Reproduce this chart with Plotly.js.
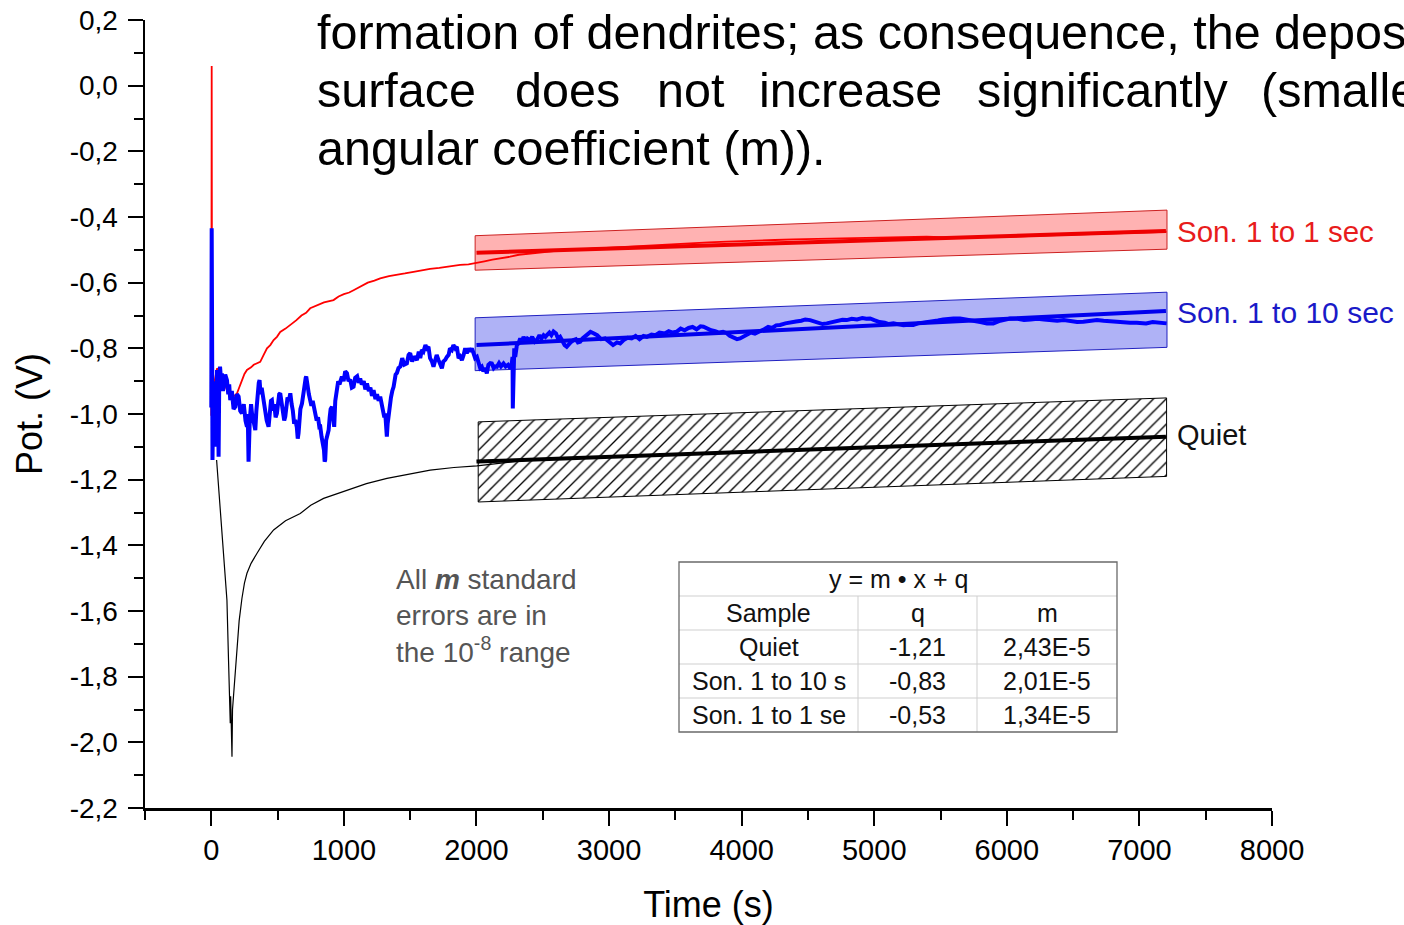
<!DOCTYPE html>
<html>
<head>
<meta charset="utf-8">
<script src="https://cdn.plot.ly/plotly-3.0.1.min.js"></script>
<style>html,body{margin:0;padding:0;background:#fff;overflow:hidden}#chart{width:1404px;height:925px}</style>
</head>
<body>
<div id="chart"></div>
<script>
// ---- Data ----
const redCurve = [[0,-1.005],[3,0.06],[6,-0.95],[10,-1.0],[25,-0.9],[43,-0.861],[68,-0.87],[95,-0.9],[118,-0.927],[150,-0.945],[168,-0.947],[194,-0.937],[215,-0.915],[230,-0.9],[250,-0.878],[269,-0.866],[300,-0.858],[320,-0.85],[345,-0.846],[369,-0.841],[395,-0.82],[420,-0.8],[445,-0.79],[470,-0.775],[495,-0.765],[520,-0.75],[560,-0.74],[596,-0.729],[640,-0.715],[680,-0.7],[715,-0.692],[746,-0.678],[800,-0.668],[850,-0.66],[922,-0.653],[960,-0.642],[1000,-0.635],[1040,-0.63],[1073,-0.623],[1130,-0.61],[1180,-0.6],[1230,-0.594],[1274,-0.587],[1340,-0.58],[1400,-0.575],[1460,-0.572],[1525,-0.567],[1590,-0.562],[1650,-0.558],[1720,-0.555],[1777,-0.551],[1830,-0.549],[1877,-0.546],[1940,-0.544],[1990,-0.541],[2060,-0.535],[2120,-0.53],[2190,-0.526],[2254,-0.521],[2320,-0.515],[2380,-0.512],[2440,-0.509],[2506,-0.506],[2600,-0.503],[2700,-0.5],[2790,-0.498],[2883,-0.496],[3000,-0.493],[3100,-0.49],[3250,-0.487],[3385,-0.485],[3500,-0.482],[3600,-0.48],[3750,-0.477],[3888,-0.475],[4000,-0.474],[4100,-0.472],[4250,-0.47],[4390,-0.468],[4520,-0.467],[4650,-0.465],[4780,-0.463],[4893,-0.462],[5020,-0.462],[5150,-0.461],[5280,-0.46],[5396,-0.46],[5550,-0.462],[5700,-0.462],[5880,-0.461],[6075,-0.46],[6250,-0.457],[6400,-0.455],[6550,-0.452],[6703,-0.45],[6850,-0.448],[7000,-0.447],[7100,-0.446],[7205,-0.445]];

const blueCurve = [[0,-0.98],[3,-0.434],[6,-0.75],[9,-1.14],[15,-0.95],[22,-1.05],[30,-0.9],[38,-1.1],[43,-0.866],[50,-0.95],[55,-1.13],[60,-0.9],[66,-0.856],[74,-0.9],[80,-0.876],[88,-0.93],[93,-0.917],[105,-0.88],[118,-0.897],[128,-0.94],[135,-0.91],[143,-0.958],[155,-0.93],[168,-0.985],[181,-0.978],[193,-0.94],[206,-0.947],[218,-0.99],[231,-0.998],[245,-0.97],[258,-1.02],[269,-1.039],[275,-1.0],[281,-1.145],[290,-1.02],[300,-0.97],[307,-0.998],[318,-1.03],[332,-1.049],[340,-0.99],[350,-0.93],[358,-0.905],[364,-0.897],[372,-0.94],[380,-0.92],[395,-0.958],[405,-0.99],[418,-1.02],[432,-1.039],[440,-0.99],[450,-0.96],[457,-0.958],[466,-0.99],[475,-0.97],[485,-1.01],[495,-0.998],[505,-0.96],[512,-0.94],[520,-0.937],[530,-0.97],[540,-0.99],[550,-1.02],[558,-1.008],[566,-0.97],[575,-0.95],[585,-0.96],[596,-0.937],[606,-0.97],[615,-0.99],[625,-1.03],[633,-1.018],[645,-1.04],[652,-1.075],[658,-1.059],[665,-1.0],[672,-0.985],[684,-0.968],[694,-0.93],[704,-0.9],[712,-0.89],[716,-0.886],[725,-0.92],[736,-0.94],[746,-0.958],[755,-0.975],[765,-0.96],[775,-0.99],[784,-0.998],[795,-1.02],[805,-1.01],[815,-1.04],[822,-1.039],[832,-1.07],[842,-1.09],[850,-1.11],[855,-1.145],[859,-1.14],[866,-1.08],[875,-1.06],[885,-1.049],[893,-1.01],[900,-0.985],[910,-0.978],[918,-1.02],[927,-1.039],[935,-0.96],[947,-0.917],[957,-0.9],[967,-0.91],[977,-0.89],[985,-0.886],[998,-0.9],[1010,-0.87],[1023,-0.876],[1035,-0.9],[1048,-0.895],[1060,-0.92],[1073,-0.917],[1085,-0.89],[1100,-0.885],[1112,-0.905],[1123,-0.892],[1135,-0.91],[1150,-0.9],[1162,-0.925],[1174,-0.907],[1188,-0.93],[1200,-0.92],[1212,-0.945],[1224,-0.927],[1238,-0.955],[1250,-0.94],[1262,-0.96],[1274,-0.947],[1285,-0.97],[1295,-0.985],[1305,-1.01],[1312,-0.998],[1318,-1.04],[1324,-1.069],[1330,-1.03],[1337,-1.0],[1344,-0.998],[1355,-0.95],[1365,-0.93],[1375,-0.917],[1390,-0.88],[1400,-0.875],[1412,-0.86],[1425,-0.856],[1440,-0.83],[1455,-0.85],[1475,-0.846],[1488,-0.82],[1500,-0.815],[1515,-0.84],[1530,-0.825],[1551,-0.836],[1565,-0.81],[1576,-0.83],[1588,-0.805],[1600,-0.81],[1615,-0.79],[1626,-0.8],[1638,-0.795],[1650,-0.83],[1664,-0.84],[1676,-0.856],[1690,-0.835],[1700,-0.82],[1714,-0.836],[1726,-0.85],[1739,-0.861],[1750,-0.84],[1765,-0.835],[1777,-0.826],[1790,-0.82],[1800,-0.8],[1814,-0.805],[1826,-0.79],[1840,-0.8],[1852,-0.795],[1865,-0.83],[1877,-0.825],[1890,-0.836],[1903,-0.82],[1915,-0.8],[1927,-0.815],[1940,-0.8],[1952,-0.81],[1965,-0.8],[1978,-0.815],[1990,-0.83],[2003,-0.826],[2015,-0.845],[2028,-0.86],[2040,-0.856],[2052,-0.87],[2065,-0.86],[2078,-0.876],[2090,-0.85],[2104,-0.845],[2116,-0.846],[2130,-0.86],[2142,-0.855],[2154,-0.856],[2170,-0.845],[2185,-0.855],[2204,-0.846],[2220,-0.855],[2238,-0.85],[2254,-0.861],[2265,-0.85],[2272,-0.826],[2274,-0.983],[2277,-0.84],[2285,-0.8],[2292,-0.826],[2305,-0.79],[2317,-0.785],[2330,-0.77],[2342,-0.78],[2355,-0.765],[2370,-0.78],[2385,-0.77],[2405,-0.775],[2420,-0.765],[2440,-0.78],[2455,-0.775],[2475,-0.76],[2490,-0.77],[2506,-0.76],[2520,-0.765],[2531,-0.76],[2550,-0.752],[2565,-0.76],[2581,-0.749],[2600,-0.755],[2615,-0.77],[2631,-0.765],[2650,-0.78],[2665,-0.79],[2681,-0.795],[2700,-0.785],[2715,-0.78],[2732,-0.775],[2750,-0.772],[2765,-0.782],[2782,-0.78],[2800,-0.77],[2830,-0.76],[2860,-0.75],[2883,-0.754],[2910,-0.76],[2940,-0.772],[2970,-0.77],[3000,-0.78],[3030,-0.79],[3060,-0.782],[3084,-0.785],[3110,-0.775],[3140,-0.768],[3170,-0.77],[3200,-0.762],[3230,-0.772],[3260,-0.762],[3285,-0.765],[3320,-0.758],[3350,-0.76],[3380,-0.752],[3420,-0.755],[3450,-0.748],[3480,-0.752],[3511,-0.749],[3540,-0.74],[3570,-0.745],[3600,-0.738],[3630,-0.735],[3660,-0.742],[3690,-0.733],[3712,-0.734],[3740,-0.74],[3770,-0.745],[3800,-0.748],[3830,-0.752],[3860,-0.75],[3888,-0.754],[3910,-0.762],[3940,-0.768],[3965,-0.772],[3988,-0.77],[4010,-0.765],[4040,-0.76],[4070,-0.752],[4100,-0.755],[4139,-0.749],[4170,-0.742],[4200,-0.735],[4230,-0.738],[4260,-0.73],[4290,-0.729],[4330,-0.724],[4370,-0.72],[4410,-0.718],[4450,-0.716],[4480,-0.712],[4516,-0.714],[4550,-0.718],[4580,-0.722],[4610,-0.726],[4642,-0.724],[4680,-0.72],[4720,-0.716],[4760,-0.713],[4793,-0.714],[4830,-0.71],[4870,-0.712],[4910,-0.708],[4940,-0.71],[4969,-0.709],[5000,-0.714],[5040,-0.72],[5080,-0.722],[5110,-0.726],[5145,-0.724],[5180,-0.728],[5220,-0.73],[5260,-0.728],[5295,-0.729],[5330,-0.724],[5370,-0.722],[5410,-0.72],[5446,-0.719],[5480,-0.715],[5520,-0.712],[5560,-0.71],[5597,-0.709],[5647,-0.709],[5700,-0.712],[5750,-0.716],[5800,-0.72],[5850,-0.724],[5898,-0.724],[5950,-0.716],[6000,-0.71],[6024,-0.709],[6080,-0.71],[6130,-0.714],[6180,-0.712],[6230,-0.71],[6280,-0.712],[6326,-0.714],[6380,-0.716],[6430,-0.714],[6480,-0.718],[6530,-0.72],[6577,-0.719],[6630,-0.716],[6680,-0.714],[6730,-0.716],[6780,-0.718],[6829,-0.719],[6880,-0.72],[6930,-0.722],[6980,-0.722],[7004,-0.722],[7050,-0.724],[7100,-0.72],[7150,-0.722],[7205,-0.724]];

const quietCurve = [[40,-1.14],[60,-1.25],[81,-1.364],[100,-1.46],[118,-1.567],[130,-1.75],[143,-1.942],[146,-1.86],[150,-1.95],[156,-2.044],[160,-1.9],[168,-1.856],[180,-1.78],[194,-1.699],[210,-1.63],[231,-1.562],[250,-1.515],[269,-1.485],[300,-1.455],[345,-1.424],[400,-1.388],[470,-1.353],[560,-1.325],[671,-1.303],[750,-1.278],[847,-1.257],[930,-1.245],[1023,-1.232],[1170,-1.212],[1325,-1.196],[1500,-1.182],[1651,-1.171],[1830,-1.163],[2003,-1.158],[2400,-1.14],[3000,-1.132],[4000,-1.117],[5000,-1.1],[6000,-1.085],[7200,-1.069]];

// linear fits (as drawn)
const fitT = [2000, 7200];
const fitRed = [-0.509, -0.443];
const fitBlue = [-0.790, -0.686];
const fitQuiet = [-1.145, -1.069];

// confidence bands (left edge, right edge)
const bandTRed = [1990, 7208];
const redBandTop = [-0.457, -0.379];
const redBandBot = [-0.562, -0.498];
const bandTBlue = [1990, 7208];
const blueBandTop = [-0.707, -0.629];
const blueBandBot = [-0.868, -0.797];
const bandTQuiet = [2013, 7205];
const quietBandTop = [-1.024, -0.951];
const quietBandBot = [-1.268, -1.190];

// series labels
const seriesNames = ["Son. 1 to 1 sec", "Son. 1 to 10 sec", "Quiet"];
const labelY = [-0.443, -0.692, -1.064];
const labelX = 7270;

// axis ticks
const yTickVals = [0.2, 0.0, -0.2, -0.4, -0.6, -0.8, -1.0, -1.2, -1.4, -1.6, -1.8, -2.0, -2.2];
const yTickLabels = ["0,2", "0,0", "-0,2", "-0,4", "-0,6", "-0,8", "-1,0", "-1,2", "-1,4", "-1,6", "-1,8", "-2,0", "-2,2"];
const xTickVals = [0, 1000, 2000, 3000, 4000, 5000, 6000, 7000, 8000];

// fit table
const tableTitle = "y = m • x + q";
const tableHeader = ["Sample", "q", "m"];
const sampleNames = ["Quiet", "Son. 1 to 10 s", "Son. 1 to 1 se"];
const qValues = ["-1,21", "-0,83", "-0,53"];
const mValues = ["2,43E-5", "2,01E-5", "1,34E-5"];

// texts
const noteText = "All <b><i>m</i></b> standard<br>errors are in<br>the 10<sup>-8</sup> range";
const topLine1 = "formation of dendrites; as consequence, the depos";
const topLine2Words = ["surface", "does", "not", "increase", "significantly", "(smalle"];
const topLine3 = "angular coefficient (m)).";

// ---- Layout helpers (pixel -> paper) ----
const W = 1404, H = 925, ML = 145, MR = 132, MT = 20, MB = 117;
const PW = W - ML - MR, PH = H - MT - MB;
const px = x => (x - ML) / PW;
const py = y => (H - MB - y) / PH;

const col = a => a.map(p => p[0]);
const val = a => a.map(p => p[1]);
const poly = (t, top, bot) => ({x: [t[0], t[1], t[1], t[0], t[0]], y: [top[0], top[1], bot[1], bot[0], top[0]]});

const FONT = '"Liberation Sans", Arial, sans-serif';

const rb = poly(bandTRed, redBandTop, redBandBot);
const bb = poly(bandTBlue, blueBandTop, blueBandBot);
const qb = poly(bandTQuiet, quietBandTop, quietBandBot);

const traces = [
  {x: rb.x, y: rb.y, mode: 'lines', fill: 'toself', fillcolor: 'rgba(255,0,0,0.30)', line: {color: '#cc2020', width: 1}, hoverinfo: 'skip', showlegend: false},
  {x: bb.x, y: bb.y, mode: 'lines', fill: 'toself', fillcolor: 'rgba(20,30,230,0.34)', line: {color: '#2020c0', width: 1}, hoverinfo: 'skip', showlegend: false},
  {x: qb.x, y: qb.y, mode: 'lines', fill: 'toself', fillcolor: 'white', fillpattern: {shape: '/', fgcolor: '#000', bgcolor: '#fff', size: 9, solidity: 0.15}, line: {color: '#000', width: 1}, hoverinfo: 'skip', showlegend: false},
  {x: col(quietCurve), y: val(quietCurve), mode: 'lines', line: {color: '#000', width: 1.2}, name: 'Quiet', showlegend: false},
  {x: col(redCurve), y: val(redCurve), mode: 'lines', line: {color: '#ff0000', width: 1.8}, name: 'Son. 1 to 1 sec', showlegend: false},
  {x: col(blueCurve), y: val(blueCurve), mode: 'lines', line: {color: '#0000ff', width: 4}, name: 'Son. 1 to 10 sec', showlegend: false},
  {x: fitT, y: fitRed, mode: 'lines', line: {color: '#ee0000', width: 4}, hoverinfo: 'skip', showlegend: false},
  {x: fitT, y: fitBlue, mode: 'lines', line: {color: '#0000ee', width: 4}, hoverinfo: 'skip', showlegend: false},
  {x: fitT, y: fitQuiet, mode: 'lines', line: {color: '#000', width: 4}, hoverinfo: 'skip', showlegend: false}
];

const labelColors = ['#e81c1c', '#1a1ac8', '#111'];
const labelSizes = [29.5, 30, 29];
const annotations = [];
seriesNames.forEach((n, i) => annotations.push({
  x: labelX, y: labelY[i], xref: 'x', yref: 'y', text: n, showarrow: false,
  xanchor: 'left', yanchor: 'middle', font: {family: FONT, size: labelSizes[i], color: labelColors[i]}
}));

// note
annotations.push({x: px(394), y: py(562), xref: 'paper', yref: 'paper', text: noteText, showarrow: false,
  xanchor: 'left', yanchor: 'top', align: 'left', font: {family: FONT, size: 28, color: '#555'}});

// top text
const topFont = {family: FONT, size: 48.5, color: '#000'};
annotations.push({x: px(315), y: py(32), xref: 'paper', yref: 'paper', text: topLine1, showarrow: false, xanchor: 'left', yanchor: 'middle', font: topFont});
const wordX = [315, 513, 655, 757, 975, 1259];
topLine2Words.forEach((w, i) => annotations.push({x: px(wordX[i]), y: py(90), xref: 'paper', yref: 'paper', text: w, showarrow: false, xanchor: 'left', yanchor: 'middle', font: topFont}));
annotations.push({x: px(315), y: py(148), xref: 'paper', yref: 'paper', text: topLine3, showarrow: false, xanchor: 'left', yanchor: 'middle', font: topFont});

// table
const tL = 679, tR = 1117, tTop = 562, rowH = 34, colX = [679, 858, 977, 1117];
const tBot = tTop + rowH * 5;
const shapes = [];
const gridLine = {color: '#cfcfcf', width: 1};
for (let r = 1; r < 5; r++) {
  shapes.push({type: 'line', xref: 'paper', yref: 'paper', x0: px(tL), x1: px(tR), y0: py(tTop + r * rowH), y1: py(tTop + r * rowH), line: gridLine});
}
[1, 2].forEach(c => shapes.push({type: 'line', xref: 'paper', yref: 'paper', x0: px(colX[c]), x1: px(colX[c]), y0: py(tTop + rowH), y1: py(tBot), line: gridLine}));
shapes.push({type: 'rect', xref: 'paper', yref: 'paper', x0: px(tL), x1: px(tR), y0: py(tTop), y1: py(tBot), line: {color: '#6a6a6a', width: 1.3}, fillcolor: 'rgba(0,0,0,0)'});
const tFont = {family: FONT, size: 25, color: '#111'};
const colC = [0, 1, 2].map(c => (colX[c] + colX[c + 1]) / 2);
annotations.push({x: px((tL + tR) / 2), y: py(tTop + rowH / 2), xref: 'paper', yref: 'paper', text: tableTitle, showarrow: false, xanchor: 'center', yanchor: 'middle', font: tFont});
tableHeader.forEach((h, c) => annotations.push({x: px(colC[c]), y: py(tTop + rowH * 1.5), xref: 'paper', yref: 'paper', text: h, showarrow: false, xanchor: 'center', yanchor: 'middle', font: tFont}));
sampleNames.forEach((s, r) => {
  const yy = py(tTop + rowH * (2.5 + r));
  [s, qValues[r], mValues[r]].forEach((t, c) => annotations.push({x: px(colC[c]), y: yy, xref: 'paper', yref: 'paper', text: t, showarrow: false, xanchor: 'center', yanchor: 'middle', font: tFont}));
});

const layout = {
  width: W, height: H,
  margin: {l: ML, r: MR, t: MT, b: MB, pad: 0},
  paper_bgcolor: '#fff', plot_bgcolor: '#fff',
  showlegend: false,
  font: {family: FONT, color: '#000'},
  xaxis: {
    range: [-500, 8000], showgrid: false, zeroline: false,
    showline: true, linecolor: '#000', linewidth: 2.5,
    ticks: 'outside', ticklen: 15, tickwidth: 2, tickcolor: '#000',
    tickvals: xTickVals, ticktext: xTickVals.map(String),
    minor: {ticks: 'outside', ticklen: 9, tickwidth: 2, tickcolor: '#000', dtick: 500, tick0: 0, showgrid: false},
    tickfont: {family: FONT, size: 29, color: '#000'},
    ticklabelstandoff: 0,
    title: {text: 'Time (s)', font: {family: FONT, size: 36, color: '#000'}, standoff: 27}
  },
  yaxis: {
    range: [-2.2, 0.2], showgrid: false, zeroline: false,
    showline: true, linecolor: '#000', linewidth: 2.5,
    ticks: 'outside', ticklen: 15, tickwidth: 2, tickcolor: '#000',
    tickvals: yTickVals, ticktext: yTickLabels,
    minor: {ticks: 'outside', ticklen: 9, tickwidth: 2, tickcolor: '#000', dtick: 0.1, tick0: 0, showgrid: false},
    tickfont: {family: FONT, size: 28, color: '#000'},
    ticklabelstandoff: 4,
    title: {text: 'Pot. (V)', font: {family: FONT, size: 36, color: '#000'}, standoff: 16}
  },
  shapes: shapes,
  annotations: annotations
};

Plotly.newPlot('chart', traces, layout, {displayModeBar: false, staticPlot: true});
</script>
</body>
</html>
